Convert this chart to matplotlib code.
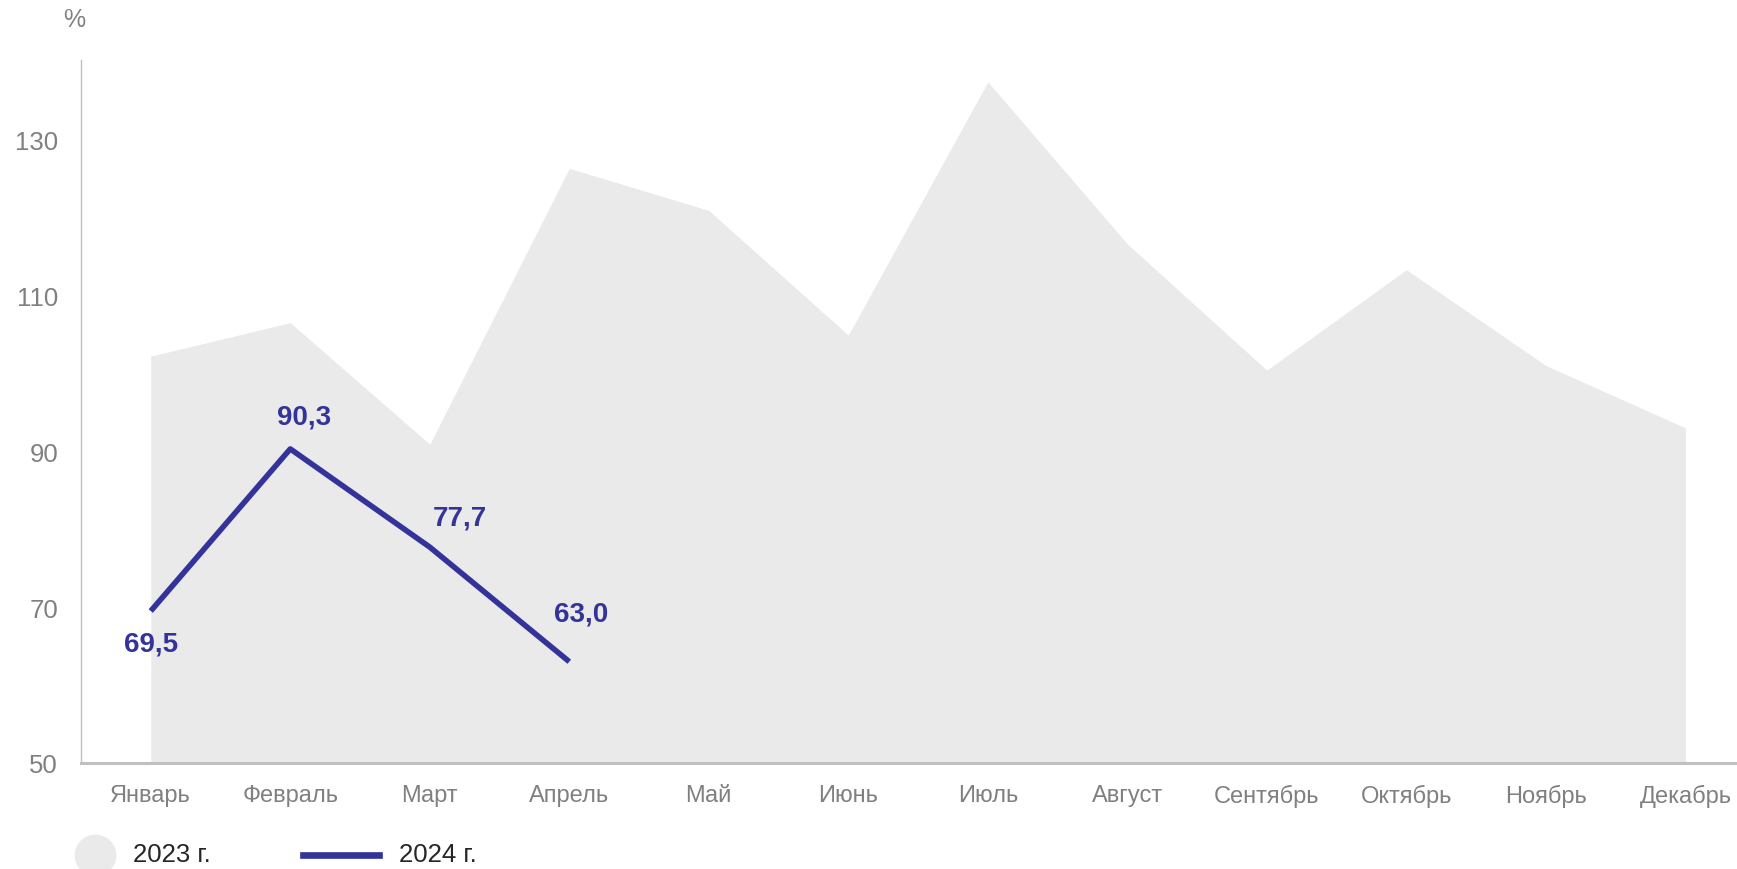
import matplotlib
matplotlib.use("Agg")
import matplotlib.pyplot as plt
from matplotlib.lines import Line2D

plt.rcParams['font.family'] = ['Liberation Sans', 'DejaVu Sans']

months = ["Январь", "Февраль", "Март", "Апрель", "Май", "Июнь", "Июль",
          "Август", "Сентябрь", "Октябрь", "Ноябрь", "Декабрь"]
values_2023 = [102.2, 106.5, 90.9, 126.3, 120.9, 104.9, 137.4, 116.6, 100.4, 113.3, 101.0, 93.0]
values_2024 = [69.5, 90.3, 77.7, 63.0]
labels_2024 = ["69,5", "90,3", "77,7", "63,0"]
series_names = ["2023 г.", "2024 г."]
yticks = [50, 70, 90, 110, 130]

FILL = "#EAEAEA"
LINE = "#333399"
GREY = "#808080"

fig = plt.figure(figsize=(17.37, 8.70), dpi=100)
ax = fig.add_axes([81/1737, 1 - 764/870, 1 - 81/1737, (764 - 61)/870])

x = list(range(len(months)))
ax.fill_between(x, 50, values_2023, color=FILL, linewidth=0, zorder=1)
x24 = list(range(len(values_2024)))
ax.plot(x24, values_2024, color=LINE, linewidth=4.0, solid_capstyle='butt', zorder=3)

offsets = [(0, -32), (14, 32), (30, 30), (12, 48)]
for xi, yi, lab, off in zip(x24, values_2024, labels_2024, offsets):
    ax.annotate(lab, (xi, yi), xytext=off, textcoords='offset pixels',
                ha='center', va='center', fontsize=20, fontweight='bold', color=LINE, zorder=4)

ax.set_xlim(-0.5, 11.37)
ax.set_ylim(50, 140.2)
ax.set_xticks(x)
ax.set_xticklabels(months)
ax.set_yticks(yticks)
ax.set_yticklabels([str(v) for v in yticks])
ax.tick_params(axis='x', length=0, pad=15, labelsize=17, labelcolor=GREY)
ax.tick_params(axis='y', length=0, pad=16.5, labelsize=18.5, labelcolor=GREY)
for s in ['top', 'right']:
    ax.spines[s].set_visible(False)
ax.spines['left'].set_color('#BFBFBF')
ax.spines['left'].set_linewidth(1.0)
ax.spines['bottom'].set_color('#C0C0C0')
ax.spines['bottom'].set_linewidth(2.2)
ax.spines['bottom'].set_zorder(5)

fig.text(74/1737, 1 - 20/870, "%", ha='center', va='center', fontsize=18, color=GREY)

# legend
fig.add_artist(Line2D([95/1737], [1 - 856/870], marker='o', markersize=29,
                      markerfacecolor=FILL, markeredgecolor=FILL, linestyle='none',
                      transform=fig.transFigure))
fig.text(133/1737, 1 - 855/870, series_names[0], ha='left', va='center', fontsize=18.5, color="#262626")
fig.add_artist(Line2D([303/1737, 379/1737], [1 - 856/870, 1 - 856/870], color=LINE,
                      linewidth=4.8, transform=fig.transFigure))
fig.text(399/1737, 1 - 855/870, series_names[1], ha='left', va='center', fontsize=18.5, color="#262626")

fig.savefig("out.png", dpi=100)
